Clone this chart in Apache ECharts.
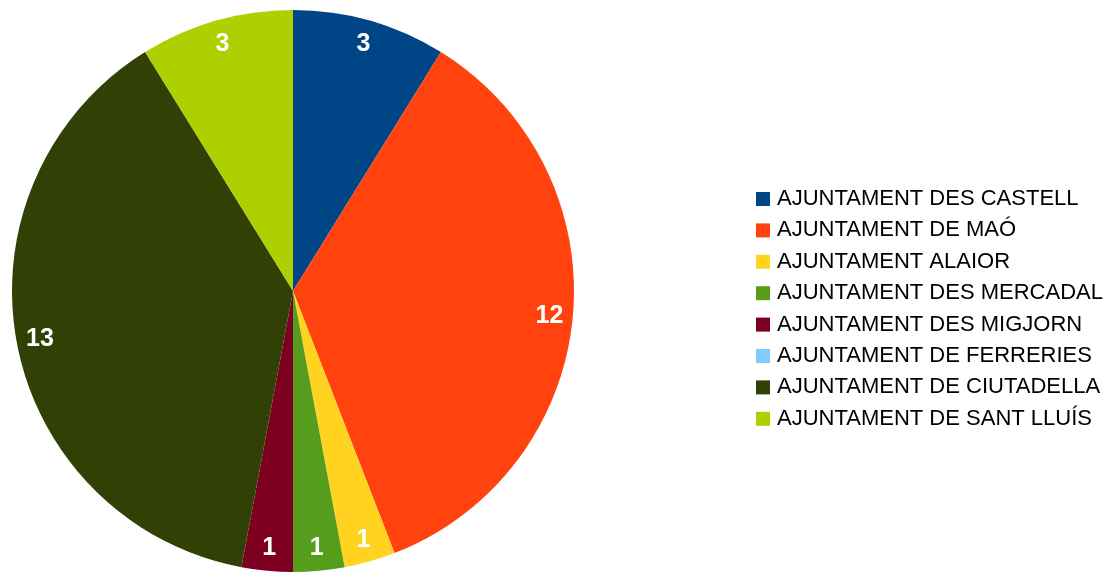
<!DOCTYPE html>
<html>
<head>
<meta charset="utf-8">
<script src="https://cdn.jsdelivr.net/npm/echarts@6/dist/echarts.min.js"></script>
<style>
  html, body { margin: 0; padding: 0; background: #fff; }
  #chart { width: 1112px; height: 572px; }
</style>
</head>
<body>
<div id="chart"></div>
<script>
// dades
const names = [
  'AJUNTAMENT DES CASTELL',
  'AJUNTAMENT DE MAÓ',
  'AJUNTAMENT ALAIOR',
  'AJUNTAMENT DES MERCADAL',
  'AJUNTAMENT DES MIGJORN',
  'AJUNTAMENT DE FERRERIES',
  'AJUNTAMENT DE CIUTADELLA',
  'AJUNTAMENT DE SANT LLUÍS'
]
const values = [3, 12, 1, 1, 1, 0, 13, 3]
const colors = ['#004586', '#ff420e', '#ffd320', '#579d1c', '#7e0021', '#83caff', '#314004', '#aecf00']

const chart = echarts.init(document.getElementById('chart'))

const slices = names.map((n, i) => ({ name: n, value: values[i], itemStyle: { color: colors[i] } }))

const option = {
  animation: false,
  legend: {
    orient: 'vertical',
    left: 756,
    top: 188,
    padding: 0,
    itemWidth: 14,
    itemHeight: 14,
    itemGap: 9.4,
    icon: 'rect',
    data: names,
    textStyle: {
      fontFamily: 'Liberation Sans, Arial, sans-serif',
      fontSize: 22,
      color: '#000',
      padding: [0, 0, 0, 2]
    }
  },
  series: [
    {
      type: 'pie',
      center: [293, 291],
      radius: [0, 281],
      clockwise: true,
      startAngle: 90,
      data: slices,
      label: { show: false },
      labelLine: { show: false },
      itemStyle: { borderWidth: 0 },
      emphasis: { disabled: true }
    },
    {
      // serie transparent només per posar les etiquetes prop de la vora
      type: 'pie',
      center: [293, 291],
      radius: [0, 509],
      startAngle: 90,
      silent: true,
      data: names.map((n, i) => ({ name: n, value: values[i] })),
      itemStyle: { color: 'rgba(0,0,0,0)', borderWidth: 0 },
      label: {
        show: true,
        position: 'inside',
        offset: [0, 1],
        color: '#fff',
        fontFamily: 'Liberation Sans, Arial, sans-serif',
        fontWeight: 'bold',
        fontSize: 25,
        formatter: p => (p.value ? String(p.value) : '')
      },
      labelLine: { show: false },
      emphasis: { disabled: true }
    }
  ]
}
chart.setOption(option)
</script>
</body>
</html>
